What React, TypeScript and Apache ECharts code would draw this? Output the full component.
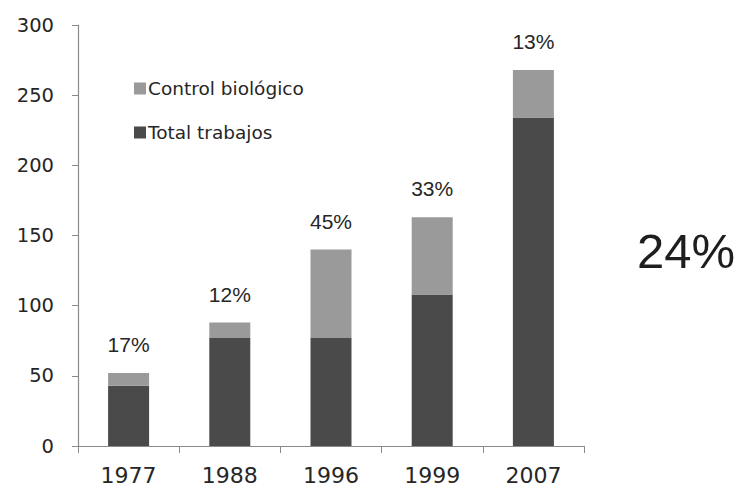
import React, { useEffect, useRef } from "react";
import * as echarts from "echarts";

const years = ["1977", "1988", "1996", "1999", "2007"];
const totalTrabajos = [43, 77, 77, 108, 234];
const controlBiologico = [9, 11, 63, 55, 34];
const pctLabels = ["17%", "12%", "45%", "33%", "13%"];
const yTicks = { min: 0, max: 300, interval: 50 };
const overallPct = "24%";

export default function App() {
  const ref = useRef<HTMLDivElement>(null);
  useEffect(() => {
    if (!ref.current) return;
    const chart = echarts.init(ref.current, undefined, { renderer: "svg" });
    chart.setOption({
      animation: false,
      backgroundColor: "#ffffff",
      grid: { left: 78, right: 152, top: 25, bottom: 50 },
      legend: {
        orient: "vertical",
        left: 129,
        top: 74,
        itemGap: 25,
        itemWidth: 12,
        itemHeight: 12,
        icon: "rect",
        data: ["Control biológico", "Total trabajos"],
        textStyle: { fontFamily: "DejaVu Sans", fontSize: 18.5, color: "#262626", padding: [0, 0, 0, -3] },
      },
      xAxis: {
        type: "category",
        data: years,
        axisLine: { lineStyle: { color: "#8a8a8a", width: 1.2 } },
        axisTick: { show: true, length: 7, alignWithLabel: false, lineStyle: { color: "#8a8a8a" } },
        axisLabel: { fontFamily: "DejaVu Sans", fontSize: 22, color: "#262626", margin: 18 },
      },
      yAxis: {
        type: "value",
        min: yTicks.min,
        max: yTicks.max,
        interval: yTicks.interval,
        splitLine: { show: false },
        axisLine: { show: true, lineStyle: { color: "#8a8a8a", width: 1.2 } },
        axisTick: { show: true, length: 6, lineStyle: { color: "#8a8a8a" } },
        axisLabel: { fontFamily: "DejaVu Sans", fontSize: 19.5, color: "#262626", margin: 24 },
      },
      series: [
        {
          name: "Total trabajos",
          type: "bar",
          stack: "s",
          barWidth: 41,
          data: totalTrabajos,
          itemStyle: { color: "#4a4a4a" },
        },
        {
          name: "Control biológico",
          type: "bar",
          stack: "s",
          barWidth: 41,
          data: controlBiologico,
          itemStyle: { color: "#9a9a9a" },
          label: {
            show: true,
            position: "top",
            distance: 18,
            fontFamily: "Liberation Sans",
            fontSize: 21,
            color: "#262626",
            formatter: (p: any) => pctLabels[p.dataIndex],
          },
        },
      ],
      graphic: [
        {
          type: "text",
          left: 637,
          top: 226,
          style: {
            text: overallPct,
            fontFamily: "Liberation Sans",
            fontSize: 49,
            fill: "#1e1e1e",
          },
        },
      ],
    });
    return () => chart.dispose();
  }, []);
  return <div ref={ref} style={{ width: 736, height: 496, position: "absolute", left: 0, top: 0 }} />;
}
